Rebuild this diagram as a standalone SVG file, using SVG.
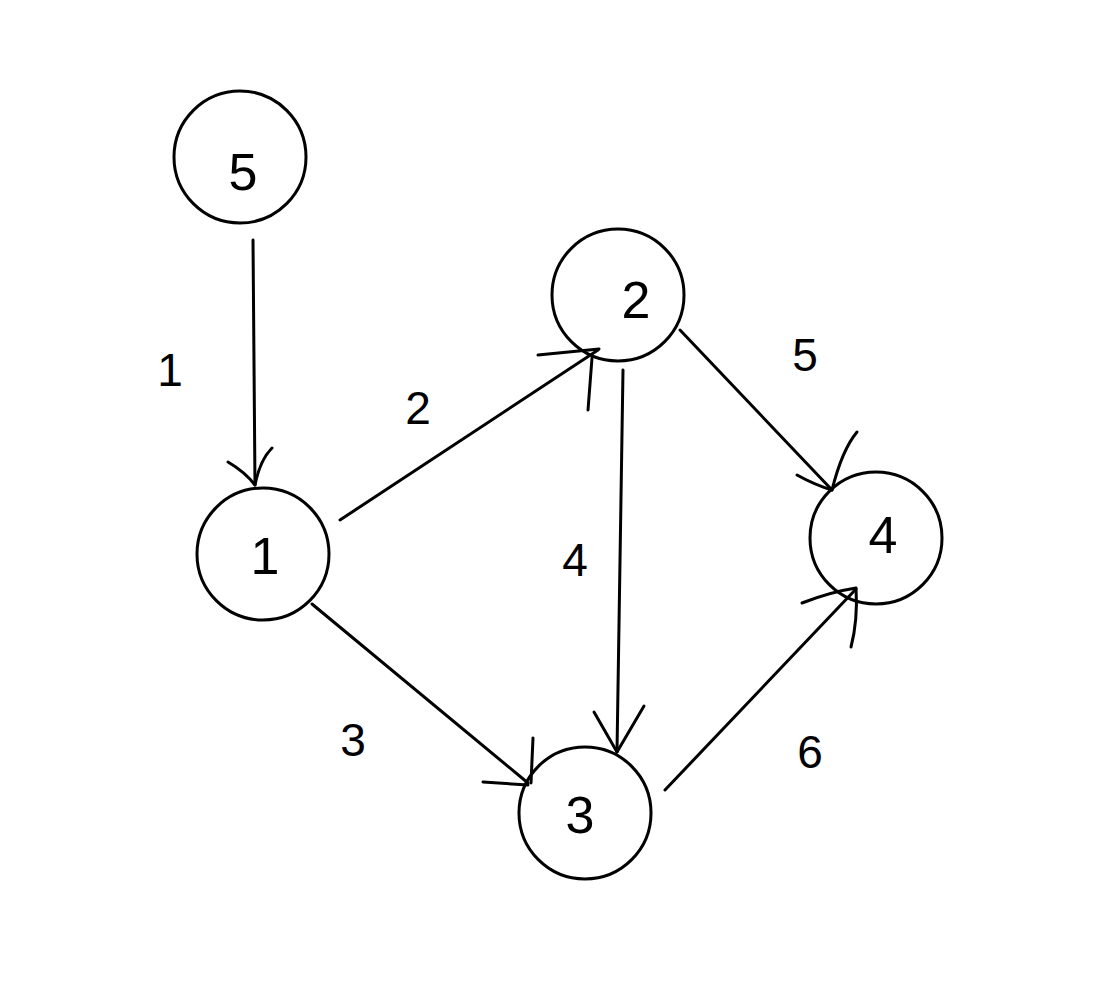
<svg xmlns="http://www.w3.org/2000/svg" width="1099" height="999" viewBox="0 0 1099 999">
<style>
.n{fill:none;stroke:#000;stroke-width:3}
.e{fill:none;stroke:#000;stroke-width:3;stroke-linecap:round;stroke-linejoin:round}
.t{font-family:"Liberation Sans","DejaVu Sans",sans-serif;font-size:52px;fill:#000;text-anchor:middle;dominant-baseline:central}
.w{font-family:"Liberation Sans","DejaVu Sans",sans-serif;font-size:46px;fill:#000;text-anchor:middle;dominant-baseline:central}
</style>
<rect width="1099" height="999" fill="#fff"/>
<g id="edges">
<path class="e" d="M253,240 L255,485"/>
<path class="e" d="M228,462 Q245,472 255,485 Q260,460 272,448"/>
<path class="e" d="M340,520 L598,350"/>
<path class="e" d="M538,355 L599,349 M588,410 L592,358"/>
<path class="e" d="M623,370 L617,752"/>
<path class="e" d="M594,712 L617,752 L644,706"/>
<path class="e" d="M312,604 L528,783"/>
<path class="e" d="M483,782 L528,785 M533,738 L531,783"/>
<path class="e" d="M680,330 L832,490"/>
<path class="e" d="M797,475 Q815,485 832,490 Q842,450 857,432"/>
<path class="e" d="M665,790 L856,589"/>
<path class="e" d="M802,603 Q830,592 856,588 Q858,620 851,647"/>
<text class="w" x="170" y="370">1</text>
<text class="w" x="418" y="408">2</text>
<text class="w" x="805" y="355">5</text>
<text class="w" x="575" y="560">4</text>
<text class="w" x="353" y="740">3</text>
<text class="w" x="810" y="752">6</text>
</g>
<g id="node5"><circle class="n" cx="240" cy="157" r="66"/><text class="t" x="243" y="172">5</text></g>
<g id="node2"><circle class="n" cx="618" cy="295" r="66"/><text class="t" x="636" y="300">2</text></g>
<g id="node1"><circle class="n" cx="263" cy="554" r="66"/><text class="t" x="265" y="556">1</text></g>
<g id="node4"><circle class="n" cx="876" cy="538" r="66"/><text class="t" x="883" y="535">4</text></g>
<g id="node3"><circle class="n" cx="585" cy="813" r="66"/><text class="t" x="580" y="815">3</text></g>
</svg>
